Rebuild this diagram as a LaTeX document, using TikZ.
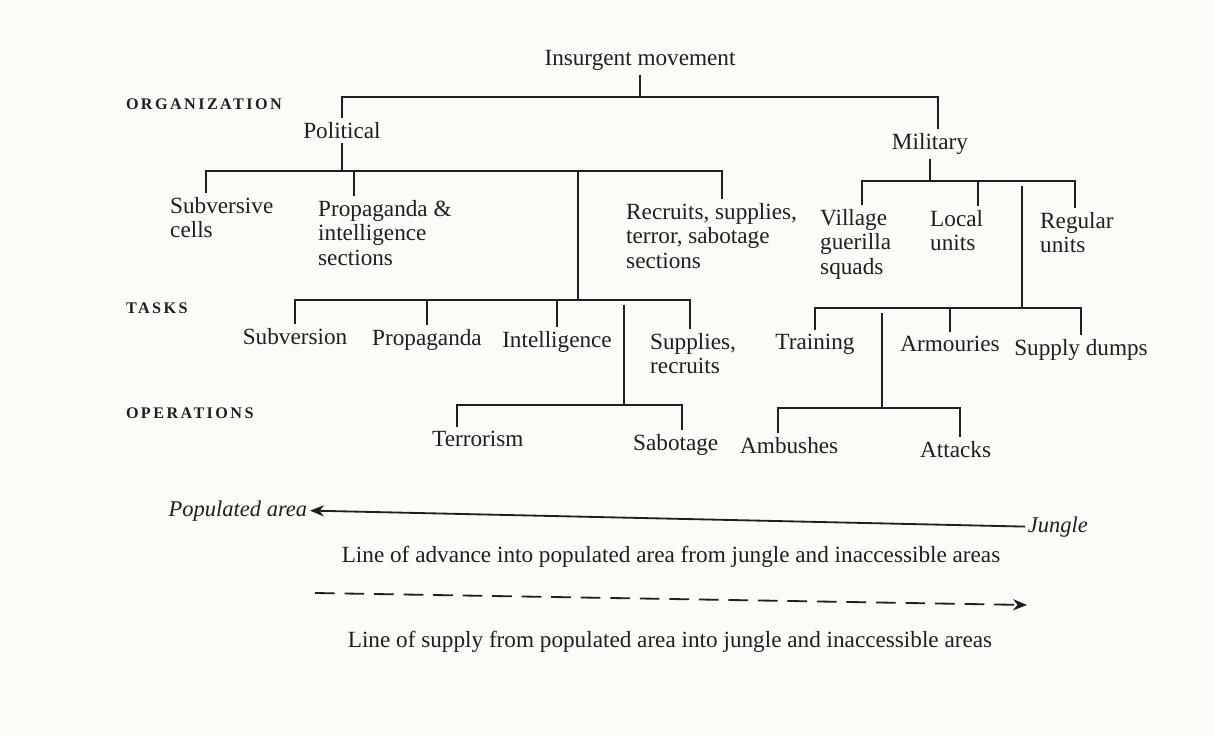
\documentclass[tikz,border=0pt]{standalone}
\usepackage{fontspec}
\setmainfont{Liberation Serif}
\usepackage{xcolor}
\usepackage{tikz}
\usetikzlibrary{arrows.meta,positioning,calc}

\definecolor{ink}{HTML}{1F1F1F}
\definecolor{paper}{HTML}{FCFBF7}

\begin{document}
\begin{tikzpicture}[x=0.025cm, y=-0.025cm,
    every node/.style={text=ink, inner sep=3pt, outer sep=0pt},
    entry/.style={font=\fontsize{16.5}{17.5}\selectfont},
    block/.style={entry, align=left, anchor=north west},
    word/.style={entry, anchor=north},
    area/.style={font=\fontsize{16}{17.5}\selectfont\itshape, inner sep=2pt},
    level/.style={anchor=base west, inner sep=0pt, font=\fontsize{11.5}{13}\selectfont\bfseries\addfontfeatures{LetterSpace=15}},
    branch/.style={draw=ink, line width=1pt},
    gap/.style={shorten <=3.5pt},
    route/.style={draw=ink, line width=1.3pt}]
    \fill[paper] (0,0) rectangle (1214,735);
    \useasboundingbox (0,0) rectangle (1214,735);

    % Levels
    \node[level] (lorg) at (126,110) {ORGANIZATION};
    \node[level] (ltask) at (126,313) {TASKS};
    \node[level] (lops) at (126,418) {OPERATIONS};

    % Organization
    \node[word] (insurgent) at (640,46) {Insurgent movement};
    \node[word] (political) at (342,118) {Political};
    \node[word] (military) at (930,129) {Military};
    \node[block] (subcells) at (166,193) {Subversive\\cells};
    \node[block] (propsec) at (314,196) {Propaganda \&\\intelligence\\sections};
    \node[block] (recsec) at (622,199) {Recruits, supplies,\\terror, sabotage\\sections};
    \node[block] (village) at (816,205) {Village\\guerilla\\squads};
    \node[block] (localu) at (926,206) {Local\\units};
    \node[block] (regular) at (1036,208) {Regular\\units};

    % Tasks
    \node[word] (subversion) at (295,324) {Subversion};
    \node[word] (propag) at (427,325) {Propaganda};
    \node[word] (intel) at (557,327) {Intelligence};
    \node[block] (supplies) at (646,329) {Supplies,\\recruits};
    \node[word] (training) at (815,330) {Training};
    \node[word] (armour) at (950,332) {Armouries};
    \node[word] (dumps) at (1081,335) {Supply dumps};

    % Operations
    \node[block] (terror) at (428,427) {Terrorism};
    \node[block] (sabot) at (629,430) {Sabotage};
    \node[block] (ambush) at (736,433) {Ambushes};
    \node[block] (attacks) at (916,437) {Attacks};

    % Drop points
    \coordinate (mild) at ($(military.north)+(8,0)$);
    \coordinate (subd) at ($(subcells.north west)+(40,0)$);
    \coordinate (propd) at ($(propsec.north west)+(40,0)$);
    \coordinate (recd) at ($(recsec.north west)+(100,0)$);
    \coordinate (villd) at ($(village.north west)+(46,0)$);
    \coordinate (locd) at ($(localu.north west)+(52,0)$);
    \coordinate (regd) at ($(regular.north west)+(39,0)$);
    \coordinate (suppd) at ($(supplies.north west)+(44,0)$);
    \coordinate (terd) at ($(terror.north west)+(29,0)$);
    \coordinate (sabd) at ($(sabot.north west)+(53,0)$);
    \coordinate (ambd) at ($(ambush.north west)+(42,0)$);
    \coordinate (attd) at ($(attacks.north west)+(44,0)$);

    % Bar junctions
    \coordinate (tj) at (640,97);
    \coordinate (pj) at (342,171);
    \coordinate (mj) at (930,181);
    \coordinate (ptj) at (578,300);
    \coordinate (mtj) at (1022,308);
    \coordinate (poj) at (624,405);
    \coordinate (moj) at (882,408);

    % Top split
    \draw[branch] (insurgent.south) -- (tj);
    \draw[branch] (political.north) |- (tj) -| (mild);

    % Political branch
    \draw[branch] (political.south) -- (pj);
    \draw[branch] (subd) |- (pj) -| (recd);
    \draw[branch] (propd) -- (propd |- pj);
    \draw[branch] (pj -| ptj) -- (ptj);
    \draw[branch] (subversion.north) |- (ptj) -| (suppd);
    \draw[branch] (propag.north) -- (propag.north |- ptj);
    \draw[branch] (intel.north) -- (intel.north |- ptj);
    \draw[branch, gap] (ptj -| poj) -- (poj);
    \draw[branch] (terd) |- (poj) -| (sabd);

    % Military branch
    \draw[branch] (military.south) -- (mj);
    \draw[branch] (villd) |- (mj) -| (regd);
    \draw[branch] (locd) -- (locd |- mj);
    \draw[branch, gap] (mj -| mtj) -- (mtj);
    \draw[branch] (training.north) |- (mtj) -| (dumps.north);
    \draw[branch] (armour.north) -- (armour.north |- mtj);
    \draw[branch, gap] (mtj -| moj) -- (moj);
    \draw[branch] (ambd) |- (moj) -| (attd);

    % Key
    \node[area, anchor=base east] (popul) at (310,516) {Populated area};
    \node[area, anchor=base west] (jungle) at (1025,532) {Jungle};
    \draw[route, -{Stealth[length=10pt,width=8pt]}] (jungle.west) -- (popul.east);
    \node[entry, anchor=base] (advance) at (671,562) {Line of advance into populated area from jungle and inaccessible areas};

    \coordinate (supfrom) at (315,593);
    \coordinate (supto) at (1027,605);
    \draw[route, dash pattern=on 14pt off 7pt, -{Stealth[length=10pt,width=8pt]}] (supfrom) -- (supto);
    \node[entry, anchor=base] (supply) at (670,647) {Line of supply from populated area into jungle and inaccessible areas};
\end{tikzpicture}
\end{document}
